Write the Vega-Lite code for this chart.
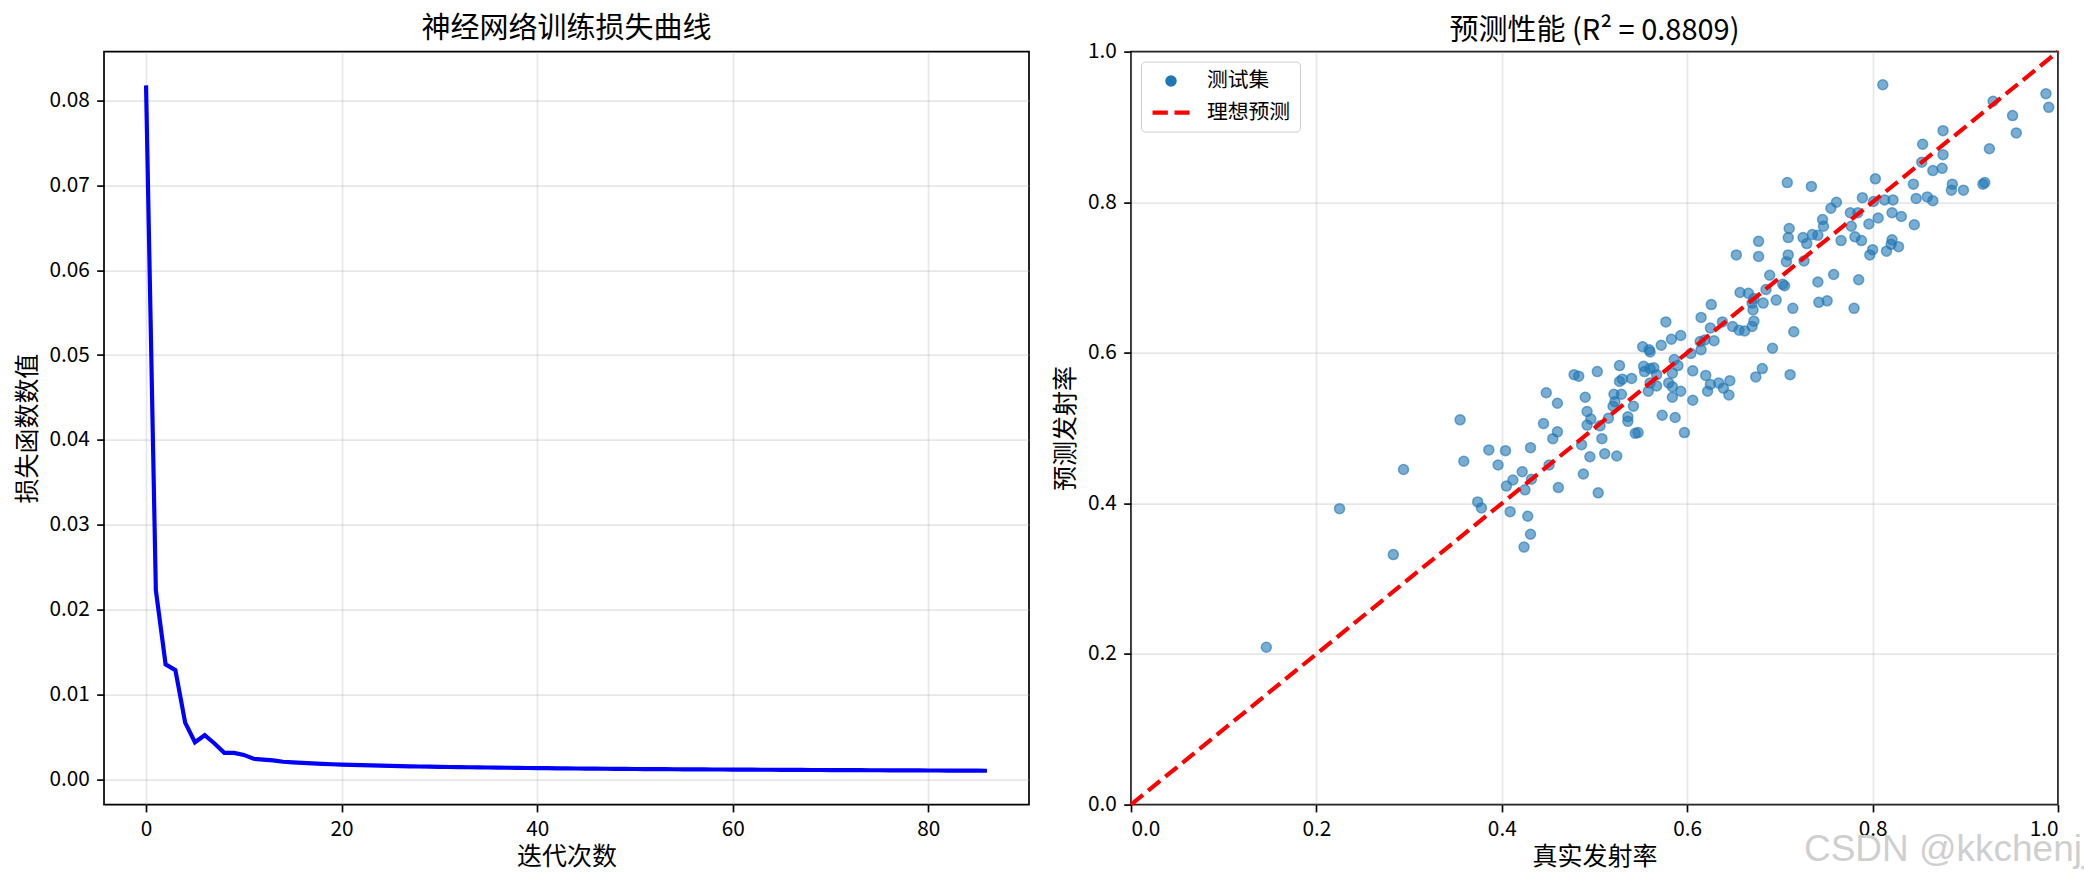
{
"$schema": "https://vega.github.io/schema/vega-lite/v6.json",
"background": "white",
"padding": {"left": 14, "top": 13.6, "right": 5, "bottom": 5},
"config": {
  "font": "Noto Sans CJK SC",
  "view": {"stroke": "black", "strokeWidth": 1.7},
  "axis": {"domain": false, "grid": true, "gridColor": "#b0b0b0", "gridOpacity": 0.3, "gridWidth": 1.67,
    "tickColor": "black", "tickSize": 7.3, "tickWidth": 1.67, "labelFontSize": 20.8, "labelColor": "black",
    "labelPadding": 7.3, "titleFontSize": 25, "titleFontWeight": "normal", "titleColor": "black",
    "labelFont": "Noto Sans CJK SC", "titleFont": "Noto Sans CJK SC"},
  "title": {"fontSize": 29, "fontWeight": "normal", "color": "black", "offset": 8, "font": "Noto Sans CJK SC"},
  "legend": {"title": null, "orient": "top-left", "offset": 10, "labelFontSize": 20.8, "labelFont": "Noto Sans CJK SC", "labelColor": "black",
    "padding": 9, "strokeColor": "#cccccc", "fillColor": "white", "cornerRadius": 4, "rowPadding": -6, "labelOffset": 15},
  "concat": {"spacing": 22}
},
"resolve": {"legend": {"color": "independent", "shape": "independent", "size": "independent", "strokeWidth": "independent"}},
"title": {"text": "CSDN @kkchenjj", "orient": "bottom", "anchor": "end", "fontSize": 37, "color": "#cfcfcf", "font": "Liberation Sans", "fontWeight": "normal", "offset": -38, "dx": 23},
"hconcat": [
{
  "width": 925, "height": 753,
  "title": "神经网络训练损失曲线",
  "data": {"values": [
    {"iter":0,"loss":0.0818},{"iter":1,"loss":0.0223},{"iter":2,"loss":0.01353},{"iter":3,"loss":0.01286},{"iter":4,"loss":0.00667},
    {"iter":5,"loss":0.00435},{"iter":6,"loss":0.00518},{"iter":7,"loss":0.0042},{"iter":8,"loss":0.0031},{"iter":9,"loss":0.0031},
    {"iter":10,"loss":0.00286},{"iter":11,"loss":0.0024},{"iter":12,"loss":0.0023},{"iter":13,"loss":0.00222},{"iter":14,"loss":0.00205},
    {"iter":15,"loss":0.00198},{"iter":16,"loss":0.00192},{"iter":17,"loss":0.00186},{"iter":18,"loss":0.00181},{"iter":19,"loss":0.00176},
    {"iter":20,"loss":0.00172},{"iter":21,"loss":0.00168},{"iter":22,"loss":0.00165},{"iter":23,"loss":0.00162},{"iter":24,"loss":0.00159},
    {"iter":25,"loss":0.00156},{"iter":26,"loss":0.00154},{"iter":27,"loss":0.00151},{"iter":28,"loss":0.00149},{"iter":29,"loss":0.00147},
    {"iter":30,"loss":0.00145},{"iter":31,"loss":0.00143},{"iter":32,"loss":0.00141},{"iter":33,"loss":0.0014},{"iter":34,"loss":0.00138},
    {"iter":35,"loss":0.00137},{"iter":36,"loss":0.00135},{"iter":37,"loss":0.00134},{"iter":38,"loss":0.00133},{"iter":39,"loss":0.00131},
    {"iter":40,"loss":0.0013},{"iter":41,"loss":0.00129},{"iter":42,"loss":0.00128},{"iter":43,"loss":0.00127},{"iter":44,"loss":0.00126},
    {"iter":45,"loss":0.00125},{"iter":46,"loss":0.00124},{"iter":47,"loss":0.00123},{"iter":48,"loss":0.00122},{"iter":49,"loss":0.00121},
    {"iter":50,"loss":0.0012},{"iter":51,"loss":0.00119},{"iter":52,"loss":0.00119},{"iter":53,"loss":0.00118},{"iter":54,"loss":0.00117},
    {"iter":55,"loss":0.00116},{"iter":56,"loss":0.00116},{"iter":57,"loss":0.00115},{"iter":58,"loss":0.00114},{"iter":59,"loss":0.00114},
    {"iter":60,"loss":0.00113},{"iter":61,"loss":0.00112},{"iter":62,"loss":0.00112},{"iter":63,"loss":0.00111},{"iter":64,"loss":0.00111},
    {"iter":65,"loss":0.0011},{"iter":66,"loss":0.00109},{"iter":67,"loss":0.00109},{"iter":68,"loss":0.00108},{"iter":69,"loss":0.00108},
    {"iter":70,"loss":0.00107},{"iter":71,"loss":0.00107},{"iter":72,"loss":0.00106},{"iter":73,"loss":0.00106},{"iter":74,"loss":0.00105},
    {"iter":75,"loss":0.00105},{"iter":76,"loss":0.00104},{"iter":77,"loss":0.00104},{"iter":78,"loss":0.00103},{"iter":79,"loss":0.00103},
    {"iter":80,"loss":0.00102},{"iter":81,"loss":0.00102},{"iter":82,"loss":0.00101},{"iter":83,"loss":0.00101},{"iter":84,"loss":0.001},
    {"iter":85,"loss":0.001},{"iter":86,"loss":0.00099}
  ]},
  "mark": {"type": "line", "color": "blue", "strokeWidth": 4.17},
  "encoding": {
    "x": {"field": "iter", "type": "quantitative",
      "scale": {"domain": [-4.3, 90.3], "nice": false, "zero": false},
      "axis": {"values": [0,20,40,60,80], "format": "d", "title": "迭代次数", "minExtent": 36, "maxExtent": 36, "titlePadding": 4}},
    "y": {"field": "loss", "type": "quantitative",
      "scale": {"domain": [-0.003, 0.08578], "nice": false, "zero": false},
      "axis": {"values": [0,0.01,0.02,0.03,0.04,0.05,0.06,0.07,0.08], "format": ".2f", "title": "损失函数数值", "minExtent": 58, "maxExtent": 58, "titlePadding": 5.5}}
  }
},
{
  "width": 927, "height": 753,
  "title": {"text": "预测性能 (R² = 0.8809)", "offset": -5},
  "layer": [
  {
    "data": {"values": [
      {"t":0.146,"p":0.209,"series":"测试集"},{"t":0.225,"p":0.393,"series":"测试集"},{"t":0.283,"p":0.332,"series":"测试集"},{"t":0.294,"p":0.445,"series":"测试集"},
      {"t":0.355,"p":0.511,"series":"测试集"},{"t":0.359,"p":0.456,"series":"测试集"},{"t":0.386,"p":0.471,"series":"测试集"},{"t":0.404,"p":0.470,"series":"测试集"},
      {"t":0.396,"p":0.451,"series":"测试集"},{"t":0.431,"p":0.474,"series":"测试集"},{"t":0.448,"p":0.547,"series":"测试集"},{"t":0.460,"p":0.533,"series":"测试集"},
      {"t":0.445,"p":0.506,"series":"测试集"},{"t":0.460,"p":0.495,"series":"测试集"},{"t":0.455,"p":0.486,"series":"测试集"},{"t":0.422,"p":0.442,"series":"测试集"},
      {"t":0.412,"p":0.431,"series":"测试集"},{"t":0.405,"p":0.423,"series":"测试集"},{"t":0.432,"p":0.432,"series":"测试集"},{"t":0.425,"p":0.418,"series":"测试集"},
      {"t":0.451,"p":0.451,"series":"测试集"},{"t":0.461,"p":0.421,"series":"测试集"},{"t":0.374,"p":0.402,"series":"测试集"},{"t":0.378,"p":0.394,"series":"测试集"},
      {"t":0.409,"p":0.389,"series":"测试集"},{"t":0.428,"p":0.383,"series":"测试集"},{"t":0.431,"p":0.359,"series":"测试集"},{"t":0.424,"p":0.342,"series":"测试集"},
      {"t":0.478,"p":0.571,"series":"测试集"},{"t":0.483,"p":0.569,"series":"测试集"},{"t":0.503,"p":0.575,"series":"测试集"},{"t":0.490,"p":0.541,"series":"测试集"},
      {"t":0.492,"p":0.522,"series":"测试集"},{"t":0.496,"p":0.512,"series":"测试集"},{"t":0.492,"p":0.504,"series":"测试集"},{"t":0.506,"p":0.503,"series":"测试集"},
      {"t":0.486,"p":0.478,"series":"测试集"},{"t":0.508,"p":0.486,"series":"测试集"},{"t":0.495,"p":0.462,"series":"测试集"},{"t":0.511,"p":0.466,"series":"测试集"},
      {"t":0.524,"p":0.463,"series":"测试集"},{"t":0.488,"p":0.439,"series":"测试集"},{"t":0.504,"p":0.414,"series":"测试集"},
      {"t":0.527,"p":0.583,"series":"测试集"},{"t":0.527,"p":0.562,"series":"测试集"},{"t":0.530,"p":0.565,"series":"测试集"},{"t":0.540,"p":0.566,"series":"测试集"},
      {"t":0.521,"p":0.545,"series":"测试集"},{"t":0.529,"p":0.545,"series":"测试集"},{"t":0.522,"p":0.535,"series":"测试集"},{"t":0.520,"p":0.529,"series":"测试集"},
      {"t":0.542,"p":0.529,"series":"测试集"},{"t":0.515,"p":0.513,"series":"测试集"},{"t":0.536,"p":0.515,"series":"测试集"},{"t":0.536,"p":0.509,"series":"测试集"},
      {"t":0.544,"p":0.493,"series":"测试集"},{"t":0.547,"p":0.494,"series":"测试集"},
      {"t":0.552,"p":0.608,"series":"测试集"},{"t":0.559,"p":0.604,"series":"测试集"},{"t":0.560,"p":0.601,"series":"测试集"},{"t":0.572,"p":0.610,"series":"测试集"},
      {"t":0.583,"p":0.618,"series":"测试集"},{"t":0.593,"p":0.623,"series":"测试集"},{"t":0.577,"p":0.641,"series":"测试集"},{"t":0.553,"p":0.582,"series":"测试集"},
      {"t":0.560,"p":0.579,"series":"测试集"},{"t":0.564,"p":0.580,"series":"测试集"},{"t":0.554,"p":0.575,"series":"测试集"},{"t":0.567,"p":0.571,"series":"测试集"},
      {"t":0.586,"p":0.591,"series":"测试集"},{"t":0.590,"p":0.583,"series":"测试集"},{"t":0.584,"p":0.573,"series":"测试集"},{"t":0.560,"p":0.560,"series":"测试集"},
      {"t":0.567,"p":0.556,"series":"测试集"},{"t":0.580,"p":0.560,"series":"测试集"},{"t":0.584,"p":0.555,"series":"测试集"},{"t":0.593,"p":0.549,"series":"测试集"},
      {"t":0.558,"p":0.549,"series":"测试集"},{"t":0.584,"p":0.541,"series":"测试集"},{"t":0.573,"p":0.517,"series":"测试集"},{"t":0.587,"p":0.514,"series":"测试集"},
      {"t":0.597,"p":0.494,"series":"测试集"},{"t":0.606,"p":0.576,"series":"测试集"},{"t":0.606,"p":0.537,"series":"测试集"},{"t":0.604,"p":0.599,"series":"测试集"},
      {"t":0.615,"p":0.604,"series":"测试集"},{"t":0.614,"p":0.615,"series":"测试集"},{"t":0.619,"p":0.617,"series":"测试集"},{"t":0.625,"p":0.633,"series":"测试集"},
      {"t":0.629,"p":0.616,"series":"测试集"},{"t":0.615,"p":0.647,"series":"测试集"},{"t":0.626,"p":0.664,"series":"测试集"},{"t":0.620,"p":0.570,"series":"测试集"},
      {"t":0.622,"p":0.549,"series":"测试集"},{"t":0.625,"p":0.558,"series":"测试集"},{"t":0.634,"p":0.560,"series":"测试集"},{"t":0.639,"p":0.553,"series":"测试集"},
      {"t":0.646,"p":0.563,"series":"测试集"},{"t":0.645,"p":0.544,"series":"测试集"},{"t":0.638,"p":0.641,"series":"测试集"},{"t":0.649,"p":0.635,"series":"测试集"},
      {"t":0.656,"p":0.630,"series":"测试集"},{"t":0.662,"p":0.629,"series":"测试集"},{"t":0.670,"p":0.635,"series":"测试集"},{"t":0.672,"p":0.642,"series":"测试集"},
      {"t":0.671,"p":0.657,"series":"测试集"},{"t":0.670,"p":0.666,"series":"测试集"},{"t":0.682,"p":0.666,"series":"测试集"},{"t":0.685,"p":0.684,"series":"测试集"},
      {"t":0.657,"p":0.680,"series":"测试集"},{"t":0.666,"p":0.679,"series":"测试集"},{"t":0.672,"p":0.672,"series":"测试集"},{"t":0.689,"p":0.703,"series":"测试集"},
      {"t":0.692,"p":0.606,"series":"测试集"},{"t":0.681,"p":0.579,"series":"测试集"},{"t":0.674,"p":0.568,"series":"测试集"},{"t":0.711,"p":0.571,"series":"测试集"},
      {"t":0.653,"p":0.730,"series":"测试集"},{"t":0.677,"p":0.728,"series":"测试集"},{"t":0.677,"p":0.748,"series":"测试集"},
      {"t":0.811,"p":0.956,"series":"测试集"},{"t":0.987,"p":0.944,"series":"测试集"},{"t":0.990,"p":0.926,"series":"测试集"},{"t":0.930,"p":0.934,"series":"测试集"},
      {"t":0.951,"p":0.915,"series":"测试集"},{"t":0.955,"p":0.892,"series":"测试集"},{"t":0.926,"p":0.871,"series":"测试集"},{"t":0.876,"p":0.895,"series":"测试集"},
      {"t":0.854,"p":0.877,"series":"测试集"},{"t":0.876,"p":0.863,"series":"测试集"},{"t":0.853,"p":0.853,"series":"测试集"},{"t":0.865,"p":0.842,"series":"测试集"},
      {"t":0.875,"p":0.845,"series":"测试集"},{"t":0.844,"p":0.824,"series":"测试集"},{"t":0.886,"p":0.824,"series":"测试集"},{"t":0.885,"p":0.816,"series":"测试集"},
      {"t":0.898,"p":0.816,"series":"测试集"},{"t":0.919,"p":0.824,"series":"测试集"},{"t":0.921,"p":0.826,"series":"测试集"},{"t":0.847,"p":0.805,"series":"测试集"},
      {"t":0.859,"p":0.807,"series":"测试集"},{"t":0.865,"p":0.802,"series":"测试集"},{"t":0.845,"p":0.770,"series":"测试集"},{"t":0.831,"p":0.781,"series":"测试集"},
      {"t":0.821,"p":0.786,"series":"测试集"},{"t":0.822,"p":0.803,"series":"测试集"},{"t":0.813,"p":0.803,"series":"测试集"},{"t":0.806,"p":0.779,"series":"测试集"},
      {"t":0.803,"p":0.831,"series":"测试集"},{"t":0.801,"p":0.801,"series":"测试集"},{"t":0.789,"p":0.806,"series":"测试集"},{"t":0.796,"p":0.771,"series":"测试集"},
      {"t":0.784,"p":0.786,"series":"测试集"},{"t":0.776,"p":0.786,"series":"测试集"},{"t":0.777,"p":0.768,"series":"测试集"},{"t":0.781,"p":0.754,"series":"测试集"},
      {"t":0.788,"p":0.749,"series":"测试集"},{"t":0.800,"p":0.737,"series":"测试集"},{"t":0.797,"p":0.730,"series":"测试集"},{"t":0.815,"p":0.735,"series":"测试集"},
      {"t":0.821,"p":0.750,"series":"测试集"},{"t":0.820,"p":0.744,"series":"测试集"},{"t":0.828,"p":0.741,"series":"测试集"},{"t":0.755,"p":0.792,"series":"测试集"},
      {"t":0.761,"p":0.800,"series":"测试集"},{"t":0.746,"p":0.777,"series":"测试集"},{"t":0.747,"p":0.768,"series":"测试集"},{"t":0.735,"p":0.757,"series":"测试集"},
      {"t":0.725,"p":0.753,"series":"测试集"},{"t":0.729,"p":0.745,"series":"测试集"},{"t":0.741,"p":0.756,"series":"测试集"},{"t":0.710,"p":0.765,"series":"测试集"},
      {"t":0.709,"p":0.753,"series":"测试集"},{"t":0.709,"p":0.730,"series":"测试集"},{"t":0.707,"p":0.721,"series":"测试集"},{"t":0.726,"p":0.722,"series":"测试集"},
      {"t":0.708,"p":0.826,"series":"测试集"},{"t":0.734,"p":0.821,"series":"测试集"},{"t":0.766,"p":0.749,"series":"测试集"},{"t":0.696,"p":0.670,"series":"测试集"},
      {"t":0.705,"p":0.689,"series":"测试集"},{"t":0.703,"p":0.691,"series":"测试集"},{"t":0.714,"p":0.659,"series":"测试集"},{"t":0.715,"p":0.628,"series":"测试集"},
      {"t":0.741,"p":0.694,"series":"测试集"},{"t":0.758,"p":0.704,"series":"测试集"},{"t":0.742,"p":0.667,"series":"测试集"},{"t":0.751,"p":0.669,"series":"测试集"},
      {"t":0.780,"p":0.659,"series":"测试集"},{"t":0.785,"p":0.697,"series":"测试集"}
    ]},
    "mark": {"type": "point", "filled": false, "fill": "#1f77b4", "fillOpacity": 0.6, "strokeOpacity": 0.6},
    "encoding": {
      "x": {"field": "t", "type": "quantitative",
        "scale": {"domain": [0, 1], "nice": false, "zero": false},
        "axis": {"values": [0,0.2,0.4,0.6,0.8,1.0], "format": ".1f", "title": "真实发射率", "minExtent": 36, "maxExtent": 36, "titlePadding": 4}},
      "y": {"field": "p", "type": "quantitative",
        "scale": {"domain": [0, 1], "nice": false, "zero": false},
        "axis": {"values": [0,0.2,0.4,0.6,0.8,1.0], "format": ".1f", "title": "预测发射率", "minExtent": 47, "maxExtent": 47, "titlePadding": 5.5}},
      "color": {"field": "series", "type": "nominal",
        "scale": {"domain": ["测试集", "理想预测"], "range": ["#1f77b4", "red"]},
        "legend": {"encode": {"symbols": {
            "strokeOpacity": {"condition": {"test": "datum.value === '理想预测'", "value": 1}, "value": 0.6},
            "fillOpacity": {"condition": {"test": "datum.value === '理想预测'", "value": 0}, "value": 0.6}
          }}}},
      "shape": {"field": "series", "type": "nominal",
        "scale": {"domain": ["测试集", "理想预测"], "range": ["circle", "M-1,0L-0.17,0M0.19,0L1,0"]}},
      "size": {"field": "series", "type": "ordinal",
        "scale": {"domain": ["测试集", "理想预测"], "range": [100, 1369]}},
      "strokeWidth": {"field": "series", "type": "ordinal",
        "scale": {"domain": ["测试集", "理想预测"], "range": [1.5, 4.17]}}
    }
  },
  {
    "data": {"values": [{"t": 0, "p": 0}, {"t": 1, "p": 1}]},
    "mark": {"type": "line", "color": "red", "strokeDash": [15.4, 6.7], "strokeWidth": 4.17, "strokeCap": "butt"},
    "encoding": {
      "x": {"field": "t", "type": "quantitative"},
      "y": {"field": "p", "type": "quantitative"}
    }
  }
  ]
}
]
}
